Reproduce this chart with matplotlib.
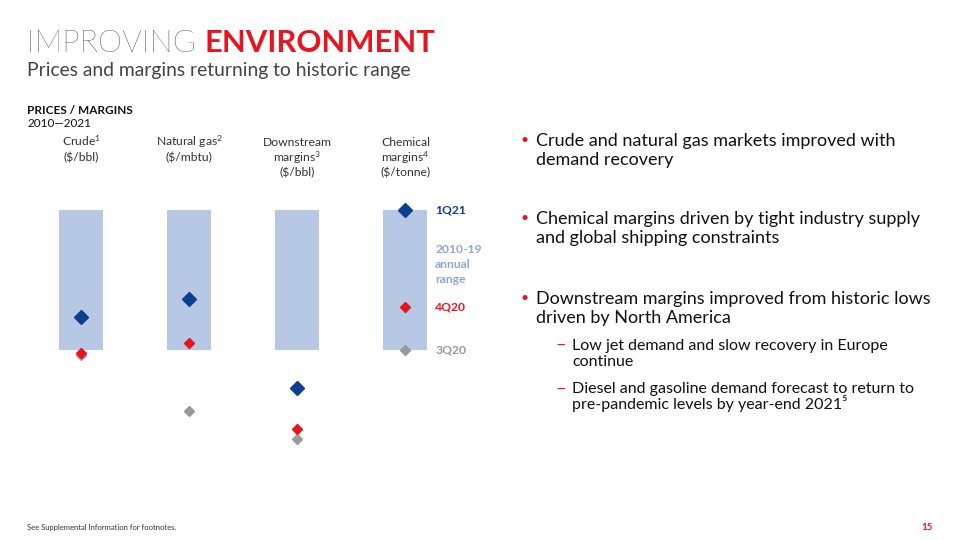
import matplotlib.pyplot as plt

# values normalised to the 2010-19 annual range (0 = low, 1 = high)
categories = ['Crude$^{1}$\n(\\$/bbl)', 'Natural gas$^{2}$\n(\\$/mbtu)',
              'Downstream\nmargins$^{3}$\n(\\$/bbl)', 'Chemical\nmargins$^{4}$\n(\\$/tonne)']
range_low = [0.0, 0.0, 0.0, 0.0]
range_high = [1.0, 1.0, 1.0, 1.0]
q1_21 = [0.234, 0.366, -0.274, 1.0]
q4_20 = [-0.019, 0.052, -0.562, 0.305]
q3_20 = [-0.038, -0.438, -0.638, 0.0]

bullets = [
    ('Crude and natural gas markets improved with\ndemand recovery', 146),
    ('Chemical margins driven by tight industry supply\nand global shipping constraints', 224),
    ('Downstream margins improved from historic lows\ndriven by North America', 304),
]
subbullets = [
    ('Low jet demand and slow recovery in Europe\ncontinue', 350, 1.165),
    ('Diesel and gasoline demand forecast to return to\npre-pandemic levels by year-end 2021\u2075', 393.5, 0.95),
]

FAM = ['Lato', 'DejaVu Sans']
plt.rcParams['font.family'] = FAM
plt.rcParams['mathtext.fontset'] = 'custom'
plt.rcParams['mathtext.rm'] = 'Lato'
plt.rcParams['mathtext.it'] = 'Lato'
plt.rcParams['mathtext.bf'] = 'Lato:bold'
plt.rcParams['mathtext.default'] = 'regular'

BLUE = '#0b3f8f'
RED = '#e8141e'
GREY = '#999999'
BAR = '#b6c8e3'
TXT = '#333333'

W, H = 960, 540
fig = plt.figure(figsize=(9.6, 5.4), dpi=100)


def px(x, y):
    return x / W, 1 - y / H


# title block
t1 = fig.text(*px(27, 52), 'IMPROVING ', fontsize=22.3, fontweight='light', color='#000000', va='baseline')
fig.canvas.draw()
bb = t1.get_window_extent()
fig.text(bb.x1 / W, 1 - 52 / H, 'ENVIRONMENT', fontsize=22.3, fontweight='bold', color=RED, va='baseline')
fig.text(*px(27, 76), 'Prices and margins returning to historic range', fontsize=13.9,
         color='#444444', va='baseline')
fig.text(*px(27, 114), 'PRICES / MARGINS', fontsize=8.5, fontweight='bold', color='#111111', va='baseline')
fig.text(*px(27, 127), '2010\u20142021', fontsize=8.5, color='#111111', va='baseline')

# chart
ax = fig.add_axes([27 / W, 1 - 460 / H, 432 / W, 260 / H])
ax.set_xlim(-0.5, 3.5)
ax.set_ylim(-0.7857, 1.0714)
ax.axis('off')

xs = list(range(len(categories)))
ax.bar(xs, [h - l for h, l in zip(range_high, range_low)], bottom=range_low, width=0.4, color=BAR, zorder=1)
ax.plot(xs, q3_20, 'D', color=GREY, markersize=5, linestyle='none', zorder=2)
ax.plot(xs, q4_20, 'D', color=RED, markersize=5, linestyle='none', zorder=3)
ax.plot(xs, q1_21, 'D', color=BLUE, markersize=7, linestyle='none', zorder=4)

# column headers, one text per line so superscripts keep the spacing even
for x, c in zip(xs, categories):
    for i, line in enumerate(c.split('\n')):
        fig.text(*px(81 + 108.2 * x, 146 + 15.2 * i), line, fontsize=8.7, color=TXT,
                 ha='center', va='baseline')

# series labels beside the last column
lx = 3.28
ax.text(lx, q1_21[3], '1Q21', fontsize=8.7, fontweight='bold', color=BLUE, va='center')
ax.text(lx, q4_20[3], '4Q20', fontsize=8.7, fontweight='bold', color=RED, va='center')
ax.text(lx, q3_20[3], '3Q20', fontsize=8.7, fontweight='bold', color=GREY, va='center')
ax.text(lx, 0.755, '2010-19\nannual\nrange', fontsize=8.7, fontweight='bold', color='#8ea7d0',
        va='top', linespacing=1.45)

# commentary (multi-line 'baseline' sits on the last line)
for txt, y in bullets:
    fig.text(*px(521, y - 6), '\u2022', fontsize=10, color=RED, va='center')
    fig.text(*px(536, y + 19), txt, fontsize=13, color='#111111', va='baseline', linespacing=1.23)
for txt, y, ls in subbullets:
    fig.text(*px(555, y - 5), '\u2013', fontsize=13, color=RED, va='center')
    fig.text(*px(572, y + 15.5), txt, fontsize=11.5, color='#111111', va='baseline', linespacing=ls)

fig.text(*px(27, 530), 'See Supplemental Information for footnotes.', fontsize=5.5, color=TXT, va='baseline')
fig.text(*px(933, 530), '15', fontsize=7, fontweight='bold', color=RED, va='baseline', ha='right')

fig.savefig('out.png', dpi=100)
